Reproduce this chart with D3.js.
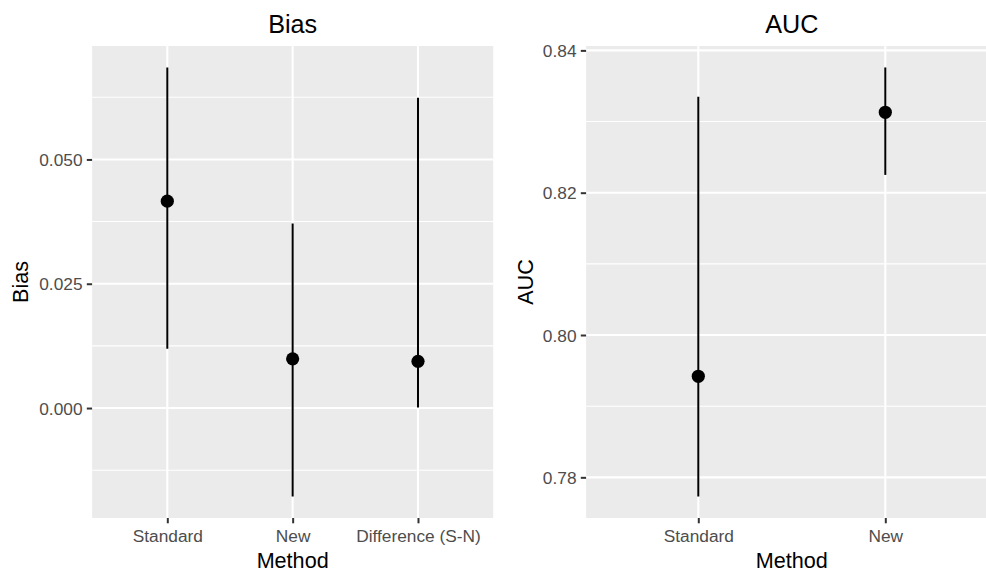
<!DOCTYPE html>
<html>
<head>
<meta charset="utf-8">
<script src="https://cdn.jsdelivr.net/npm/d3@7"></script>
<style>
    body { margin: 0; background: #fff; overflow: hidden; }
    text { font-family: 'Liberation Sans', Arial, sans-serif; }
</style>
</head>
<body>
<script>
const width = 986;
const height = 573;

// Bias panel
const biasMethods = ['Standard', 'New', 'Difference (S-N)'];
const biasEst = [0.0416, 0.0099, 0.0094];
const biasLower = [0.0119, -0.0178, 0.0001];
const biasUpper = [0.0685, 0.0371, 0.0624];
const biasTicks = [0, 0.025, 0.05];
const biasMinor = [-0.0125, 0.0125, 0.0375, 0.0625];

// AUC panel
const aucMethods = ['Standard', 'New'];
const aucEst = [0.7942, 0.8313];
const aucLower = [0.7773, 0.8225];
const aucUpper = [0.8335, 0.8376];
const aucTicks = [0.78, 0.80, 0.82, 0.84];
const aucMinor = [0.79, 0.81, 0.83];

const svg = d3.select('body')
    .append('svg')
    .attr('width', width)
    .attr('height', height);

function drawPanel(opts) {
    const top = 46;
    const bottom = 518;

    const rows = opts.methods.map((m, i) => ({
        method: m,
        est: opts.est[i],
        lo: opts.lower[i],
        hi: opts.upper[i]
    }));

    const x = d3.scalePoint()
        .domain(opts.methods)
        .range([opts.left, opts.right])
        .padding(0.6);

    // ggplot style 5% expansion
    const lo = d3.min(rows, d => d.lo);
    const hi = d3.max(rows, d => d.hi);
    const pad = (hi - lo) * 0.05;
    const y = d3.scaleLinear()
        .domain([lo - pad, hi + pad])
        .range([bottom, top]);

    const g = svg.append('g');

    g.append('rect')
        .attr('x', opts.left)
        .attr('y', top)
        .attr('width', opts.right - opts.left)
        .attr('height', bottom - top)
        .attr('fill', '#ebebeb');

    g.selectAll('.minor')
        .data(opts.minor)
        .enter().append('line')
        .attr('x1', opts.left)
        .attr('x2', opts.right)
        .attr('y1', d => y(d))
        .attr('y2', d => y(d))
        .attr('stroke', '#fff')
        .attr('stroke-width', 1.05);

    g.selectAll('.hmajor')
        .data(opts.ticks)
        .enter().append('line')
        .attr('x1', opts.left)
        .attr('x2', opts.right)
        .attr('y1', d => y(d))
        .attr('y2', d => y(d))
        .attr('stroke', '#fff')
        .attr('stroke-width', 2.1);

    g.selectAll('.vmajor')
        .data(opts.methods)
        .enter().append('line')
        .attr('x1', d => x(d))
        .attr('x2', d => x(d))
        .attr('y1', top)
        .attr('y2', bottom)
        .attr('stroke', '#fff')
        .attr('stroke-width', 2.1);

    // pointranges
    g.selectAll('.range')
        .data(rows)
        .enter().append('line')
        .attr('x1', d => x(d.method))
        .attr('x2', d => x(d.method))
        .attr('y1', d => y(d.lo))
        .attr('y2', d => y(d.hi))
        .attr('stroke', '#000')
        .attr('stroke-width', 2);

    g.selectAll('circle')
        .data(rows)
        .enter().append('circle')
        .attr('cx', d => x(d.method))
        .attr('cy', d => y(d.est))
        .attr('r', 6.6)
        .attr('fill', '#000');

    // axes
    const yAxis = g.append('g')
        .attr('transform', `translate(${opts.left},0)`)
        .call(d3.axisLeft(y)
            .tickValues(opts.ticks)
            .tickFormat(d3.format(opts.fmt))
            .tickSize(5.3)
            .tickPadding(4.3));

    const xAxis = g.append('g')
        .attr('transform', `translate(0,${bottom})`)
        .call(d3.axisBottom(x)
            .tickSize(5.3)
            .tickPadding(4.3));

    [yAxis, xAxis].forEach(a => {
        a.select('.domain').remove();
        a.selectAll('.tick line')
            .attr('stroke', '#333')
            .attr('stroke-width', 2);
        a.selectAll('.tick text')
            .attr('fill', '#4d4d4d')
            .style('font-size', '17.3px')
            .style('font-family', "'Liberation Sans', Arial, sans-serif");
    });
    yAxis.selectAll('.tick text').attr('dy', '0.36em');
    xAxis.selectAll('.tick text').attr('dy', '0.84em');

    const cx = (opts.left + opts.right) / 2;
    const cy = (top + bottom) / 2;

    svg.append('text')
        .attr('x', cx)
        .attr('y', 33.3)
        .attr('text-anchor', 'middle')
        .style('font-size', '25.2px')
        .text(opts.title);

    svg.append('text')
        .attr('x', cx)
        .attr('y', 568.3)
        .attr('text-anchor', 'middle')
        .style('font-size', '21.6px')
        .text('Method');

    svg.append('text')
        .attr('transform', `translate(${opts.labelX},${cy}) rotate(-90)`)
        .attr('text-anchor', 'middle')
        .style('font-size', '21.6px')
        .text(opts.title);
}

drawPanel({
    title: 'Bias',
    methods: biasMethods,
    est: biasEst,
    lower: biasLower,
    upper: biasUpper,
    ticks: biasTicks,
    minor: biasMinor,
    fmt: '.3f',
    left: 92.1,
    right: 493.2,
    labelX: 28
});

drawPanel({
    title: 'AUC',
    methods: aucMethods,
    est: aucEst,
    lower: aucLower,
    upper: aucUpper,
    ticks: aucTicks,
    minor: aucMinor,
    fmt: '.2f',
    left: 586.1,
    right: 997.5,
    labelX: 533
});
</script>
</body>
</html>
